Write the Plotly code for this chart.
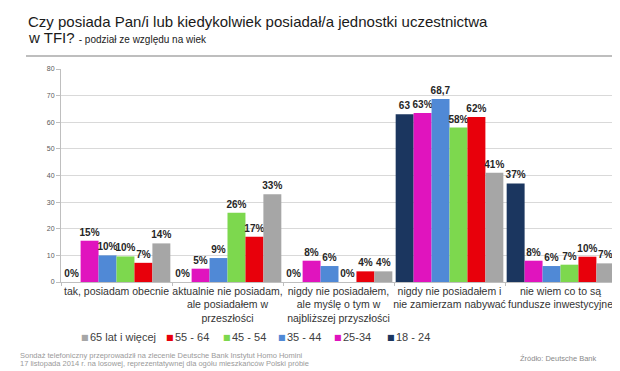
import plotly.graph_objects as go

# ---------------- data ----------------
categories = [
    "tak, posiadam obecnie",
    "aktualnie nie posiadam,<br>ale posiadałem w<br>przeszłości",
    "nigdy nie posiadałem,<br>ale myślę o tym w<br>najbliższej przyszłości",
    "nigdy nie posiadałem i<br>nie zamierzam nabywać",
    "nie wiem co to są<br>fundusze inwestycyjne",
]
series_names = ["18 - 24", "25-34", "35 - 44", "45 - 54", "55 - 64", "65 lat i więcej"]
values_18_24 = [0, 0, 0, 63, 37]
values_25_34 = [15.5, 5, 8, 63.5, 8]
values_35_44 = [10, 9, 6, 68.7, 6]
values_45_54 = [9.6, 26, 0, 58, 6.5]
values_55_64 = [7.2, 17, 4, 62, 9.5]
values_65 = [14.5, 33, 4, 41, 7]
labels_18_24 = ["0%", "0%", "0%", "63", "37%"]
labels_25_34 = ["15%", "5%", "8%", "63%", "8%"]
labels_35_44 = ["10%", "9%", "6%", "68,7", "6%"]
labels_45_54 = ["10%", "26%", "0%", "58%", "7%"]
labels_55_64 = ["7%", "17%", "4%", "62%", "10%"]
labels_65 = ["14%", "33%", "4%", "41%", "7%"]
y_ticks = [0, 10, 20, 30, 40, 50, 60, 70, 80]

all_values = [values_18_24, values_25_34, values_35_44, values_45_54, values_55_64, values_65]
all_labels = [labels_18_24, labels_25_34, labels_35_44, labels_45_54, labels_55_64, labels_65]
colors = ["#1B365F", "#E014BE", "#5089D6", "#7DD84E", "#E8000B", "#A6A6A6"]

# ---------------- layout geometry ----------------
W, H = 620, 371
L, R, T, B = 53, 12, 61, 97
PW, PH = W - L - R, H - T - B


def px(x):
    return (x - L) / PW


def py(y):
    return (H - B - y) / PH


FONT = "Liberation Sans, Arial, sans-serif"

fig = go.Figure()
for name, vals, labs, col in zip(series_names, all_values, all_labels, colors):
    fig.add_trace(go.Bar(
        name=name, x=categories, y=vals, marker=dict(color=col, line=dict(width=0)),
        text=[f"<b>{t}</b>" for t in labs], textposition="outside",
        constraintext="none", cliponaxis=False,
        textfont=dict(family=FONT, size=10, color="#262626"),
        showlegend=False,
    ))

annotations = []
# title
annotations.append(dict(
    text="Czy posiada Pan/i lub kiedykolwiek posiadał/a jednostki uczestnictwa",
    x=px(19), y=py(14), xref="paper", yref="paper", xanchor="left", yanchor="middle",
    showarrow=False, borderpad=0, font=dict(family=FONT, size=15, color="#1a1a1a")))
annotations.append(dict(
    text="w TFI? <span style='font-size:10px'>- podział ze względu na wiek</span>",
    x=px(19), y=py(29), xref="paper", yref="paper", xanchor="left", yanchor="middle",
    showarrow=False, borderpad=0, font=dict(family=FONT, size=15, color="#1a1a1a")))

# legend (order as in reference: reversed series)
legend_x = [77, 162, 219, 274, 330, 383]
for xpos, name, col in zip(legend_x, series_names[::-1], colors[::-1]):
    annotations.append(dict(
        text="■", x=px(xpos), y=py(329), xref="paper", yref="paper",
        xanchor="center", yanchor="middle", showarrow=False,
        font=dict(family="DejaVu Sans", size=8, color=col)))
    annotations.append(dict(
        text=name, x=px(xpos + 3), y=py(329), xref="paper", yref="paper",
        xanchor="left", yanchor="middle", showarrow=False,
        font=dict(family=FONT, size=11, color="#404040")))

# footer
annotations.append(dict(
    text="Sondaż telefoniczny przeprowadził na zlecenie Deutsche Bank Instytut Homo Homini",
    x=px(10), y=py(347), xref="paper", yref="paper", xanchor="left", yanchor="middle",
    showarrow=False, font=dict(family=FONT, size=7.5, color="#9a9a9a")))
annotations.append(dict(
    text="17 listopada 2014 r. na losowej, reprezentatywnej dla ogółu mieszkańców Polski próbie",
    x=px(10), y=py(355), xref="paper", yref="paper", xanchor="left", yanchor="middle",
    showarrow=False, font=dict(family=FONT, size=7.5, color="#9a9a9a")))
annotations.append(dict(
    text="Źródło: Deutsche Bank",
    x=px(510), y=py(350), xref="paper", yref="paper", xanchor="left", yanchor="middle",
    showarrow=False, font=dict(family=FONT, size=7.5, color="#8a8a8a")))

shapes = [dict(type="line", xref="paper", yref="paper", x0=px(18), x1=px(606),
               y0=py(48), y1=py(48), line=dict(color="#A8A8A8", width=1.5))]

fig.update_layout(
    width=W, height=H,
    margin=dict(l=L, r=R, t=T, b=B, autoexpand=False),
    paper_bgcolor="white", plot_bgcolor="white",
    barmode="group", bargap=0.03, bargroupgap=0,
    font=dict(family=FONT, color="#404040"),
    annotations=annotations, shapes=shapes,
    showlegend=False,
    xaxis=dict(
        type="category", showline=True, linecolor="#BFBFBF", linewidth=1,
        ticks="outside", tickson="boundaries", ticklen=3, tickcolor="#BFBFBF",
        tickangle=0, ticklabelstandoff=-1,
        tickfont=dict(family=FONT, size=10.5, color="#333333"),
        showgrid=False, fixedrange=True,
    ),
    yaxis=dict(
        range=[0, 80], tickvals=y_ticks, showgrid=True, gridcolor="#D9D9D9", gridwidth=1,
        showline=True, linecolor="#BFBFBF", linewidth=1, ticks="outside", ticklen=4,
        tickcolor="#BFBFBF", tickfont=dict(family=FONT, size=7, color="#595959"),
        zeroline=False, fixedrange=True,
    ),
)

fig.write_html("out.html")
